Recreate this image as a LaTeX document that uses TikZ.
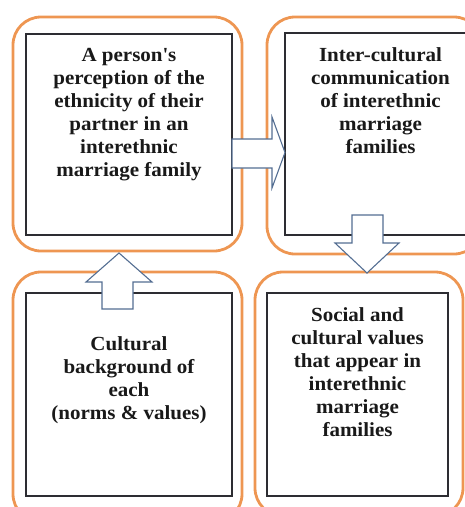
\documentclass[tikz,border=0pt]{standalone}
\usepackage{fontspec}
\setmainfont[FakeStretch=1.05]{Liberation Serif}
\usetikzlibrary{positioning}
\definecolor{frameorange}{RGB}{238,150,82}
\definecolor{arrowblue}{RGB}{84,110,146}
\definecolor{boxgray}{RGB}{45,45,50}

\begin{document}
\begin{tikzpicture}[x=1pt,y=-1pt,
  frame/.style={draw=frameorange,line width=2.8pt,rounded corners=28pt,minimum width=#1},
  inbox/.style={draw=boxgray,line width=1.3pt,fill=white,inner sep=0pt},
  txt/.style={font=\fontsize{20}{23}\selectfont\bfseries,align=center,inner sep=0pt,text=black!90},
  barrow/.style={draw=arrowblue,line width=1.1pt,fill=white,line join=miter}]
\useasboundingbox (0,0) rectangle (465,507);
\clip (0,0) rectangle (465,507);
% orange frames
\node[frame=229pt,minimum height=234pt] (tlf) at (127.5,134) {};
\node[frame=215pt,minimum height=237pt] (trf) at (374.5,135.5) {};
\node[frame=229pt,minimum height=250pt] (blf) at (127.5,397) {};
\node[frame=208pt,minimum height=244pt] (brf) at (359,394) {};
% inner boxes
\node[inbox,minimum width=206pt,minimum height=201pt] (tl) at (129,134.5) {};
\node[inbox,minimum width=191pt,minimum height=202pt] (tr) at (380.5,134) {};
\node[inbox,minimum width=206pt,minimum height=203pt] (bl) at (129,394.5) {};
\node[inbox,minimum width=181pt,minimum height=203pt] (br) at (357.5,394.5) {};
% texts
\node[txt,below=15pt of tl.north] (tltxt) {A person\textquotesingle s\\perception of the\\ethnicity of their\\partner in an\\interethnic\\marriage family};
\node[txt,below=15pt of tr.north] (trtxt) {Inter-cultural\\communication\\of interethnic\\marriage\\families};
\node[txt,below=44pt of bl.north] (bltxt) {Cultural\\background of\\each\\(norms \& values)};
\node[txt,below=15pt of br.north] (brtxt) {Social and\\cultural values\\that appear in\\interethnic\\marriage\\families};
% block arrows
\draw[barrow] (232,139) -- (272,139) -- (272,117) -- (285,152.5) -- (272,188) -- (272,168) -- (232,168) -- cycle;
\draw[barrow] (352,215) -- (383,215) -- (383,243) -- (399,243) -- (367,273) -- (335,243) -- (352,243) -- cycle;
\draw[barrow] (102,309) -- (102,282) -- (86,282) -- (119,253) -- (152,282) -- (133,282) -- (133,309) -- cycle;
\end{tikzpicture}
\end{document}
